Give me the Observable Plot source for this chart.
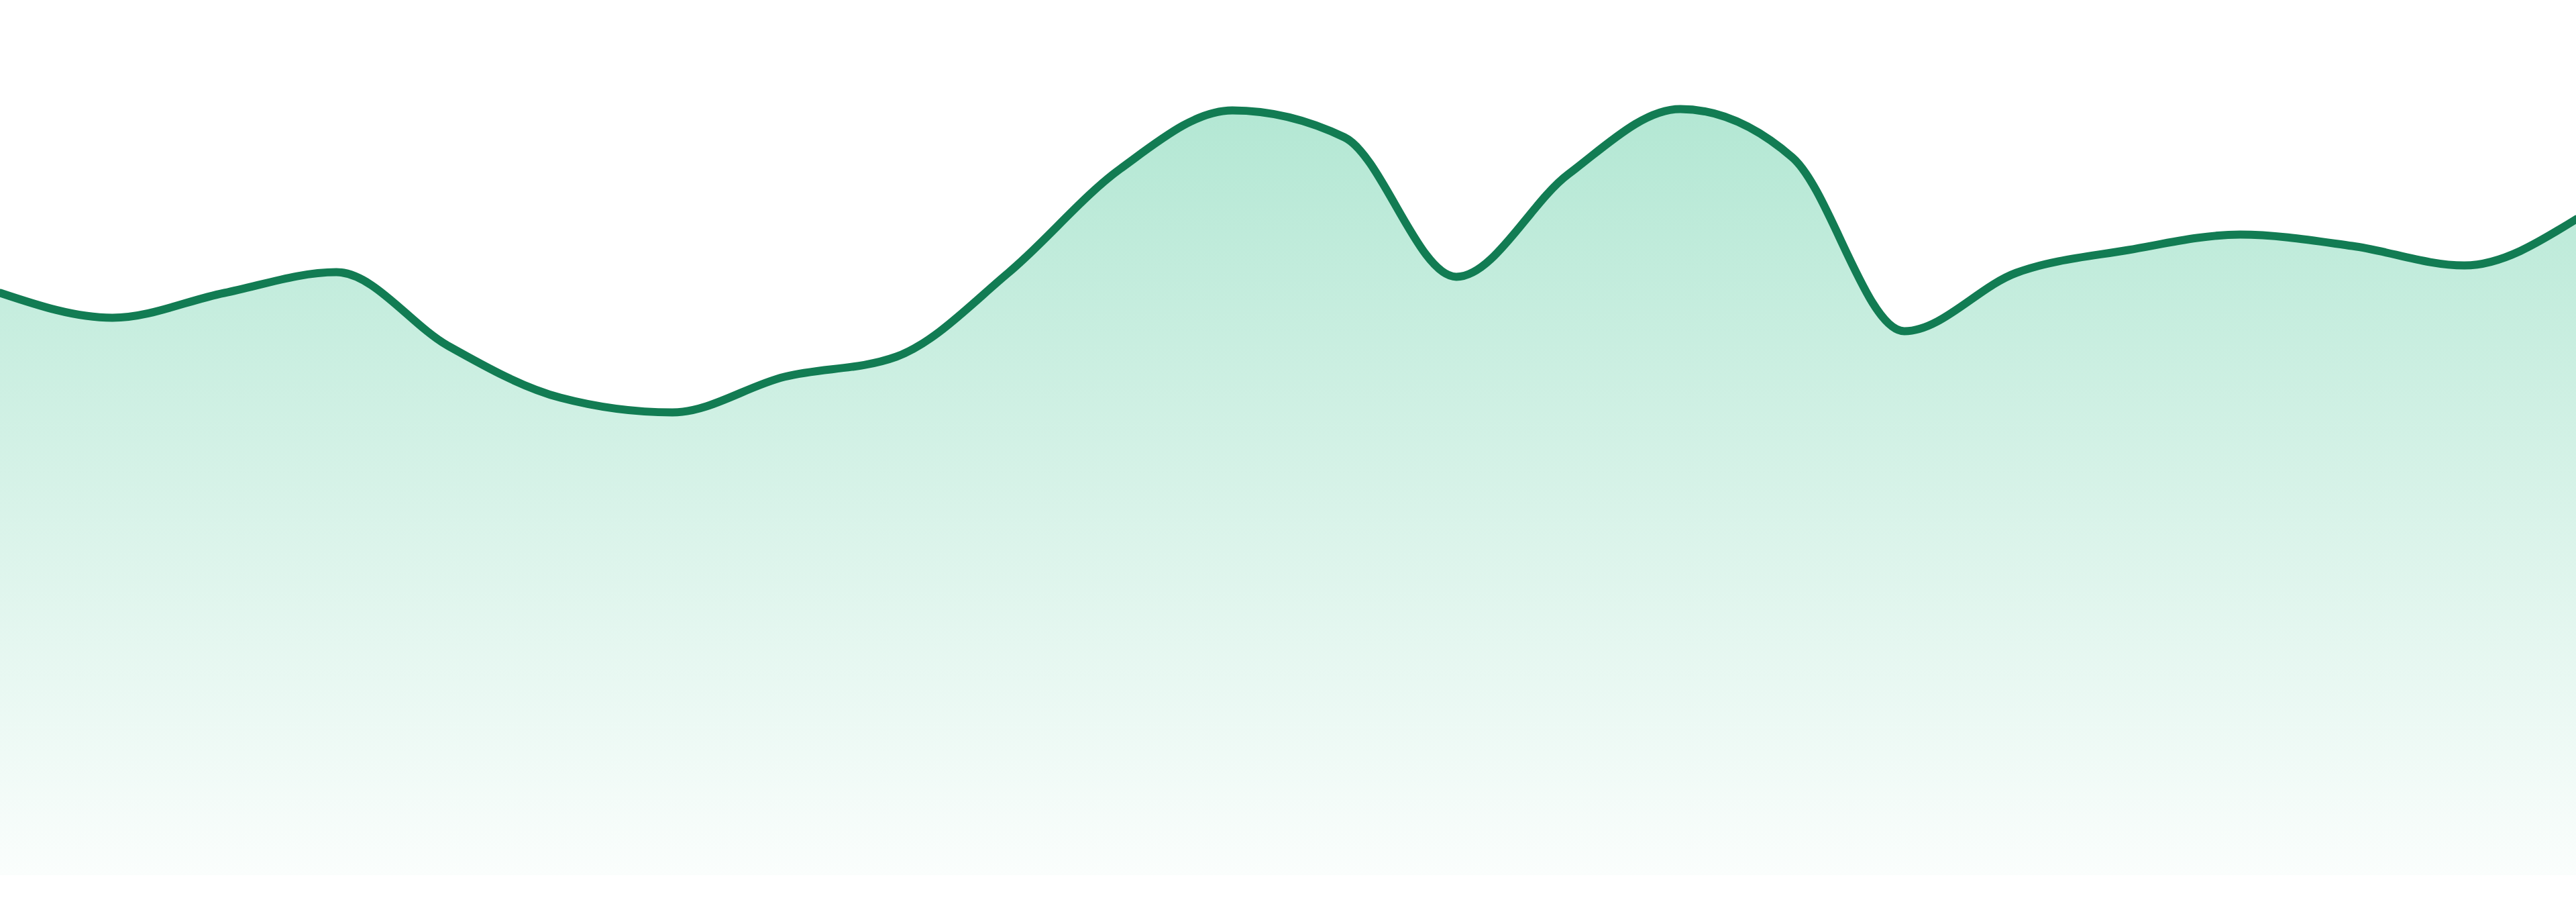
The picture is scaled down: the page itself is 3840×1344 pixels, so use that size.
<!DOCTYPE html>
<html>
<head>
<meta charset="utf-8">
<script src="https://cdn.jsdelivr.net/npm/d3@7"></script>
<script src="https://cdn.jsdelivr.net/npm/@observablehq/plot@0.6"></script>
<style>
  html, body { margin: 0; padding: 0; background: #ffffff; }
  #chart svg { display: block; }
</style>
</head>
<body>
<div id="chart"></div>
<script>
// Periods (24 evenly spaced points, no axis labels shown)
const periods = d3.range(24);
// Series values (arbitrary units)
const values = [
  86.8, 83.1, 86.8, 89.9, 78.9, 71.2, 69.0, 74.3, 77.3, 89.8, 105.3, 114.0,
  110.0, 89.2, 104.5, 114.2, 107.0, 81.1, 89.8, 93.2, 95.5, 93.8, 90.9, 97.8
];

const data = periods.map((p, i) => ({period: p, value: values[i]}));

const strokeColor = "#127c53";
const fillColor = "#12b577";

const plot = Plot.plot({
  width: 3840,
  height: 1344,
  marginLeft: 0,
  marginRight: 0,
  marginTop: 104,
  marginBottom: 40,
  style: {background: "transparent", overflow: "visible"},
  x: {domain: [0, 23], axis: null},
  y: {domain: [0, 120], axis: null},
  marks: [
    Plot.areaY(data, {x: "period", y: "value", curve: "monotone-x", fill: "url(#areaGradient)"}),
    Plot.lineY(data, {x: "period", y: "value", curve: "monotone-x", stroke: strokeColor, strokeWidth: 12})
  ]
});

const svg = d3.select(plot);
const defs = svg.insert("defs", ":first-child");
const grad = defs.append("linearGradient")
  .attr("id", "areaGradient")
  .attr("x1", 0).attr("y1", 0).attr("x2", 0).attr("y2", 1);
grad.append("stop").attr("offset", "0%").attr("stop-color", fillColor).attr("stop-opacity", 0.32);
grad.append("stop").attr("offset", "100%").attr("stop-color", fillColor).attr("stop-opacity", 0.02);

document.getElementById("chart").appendChild(plot);
</script>
</body>
</html>
